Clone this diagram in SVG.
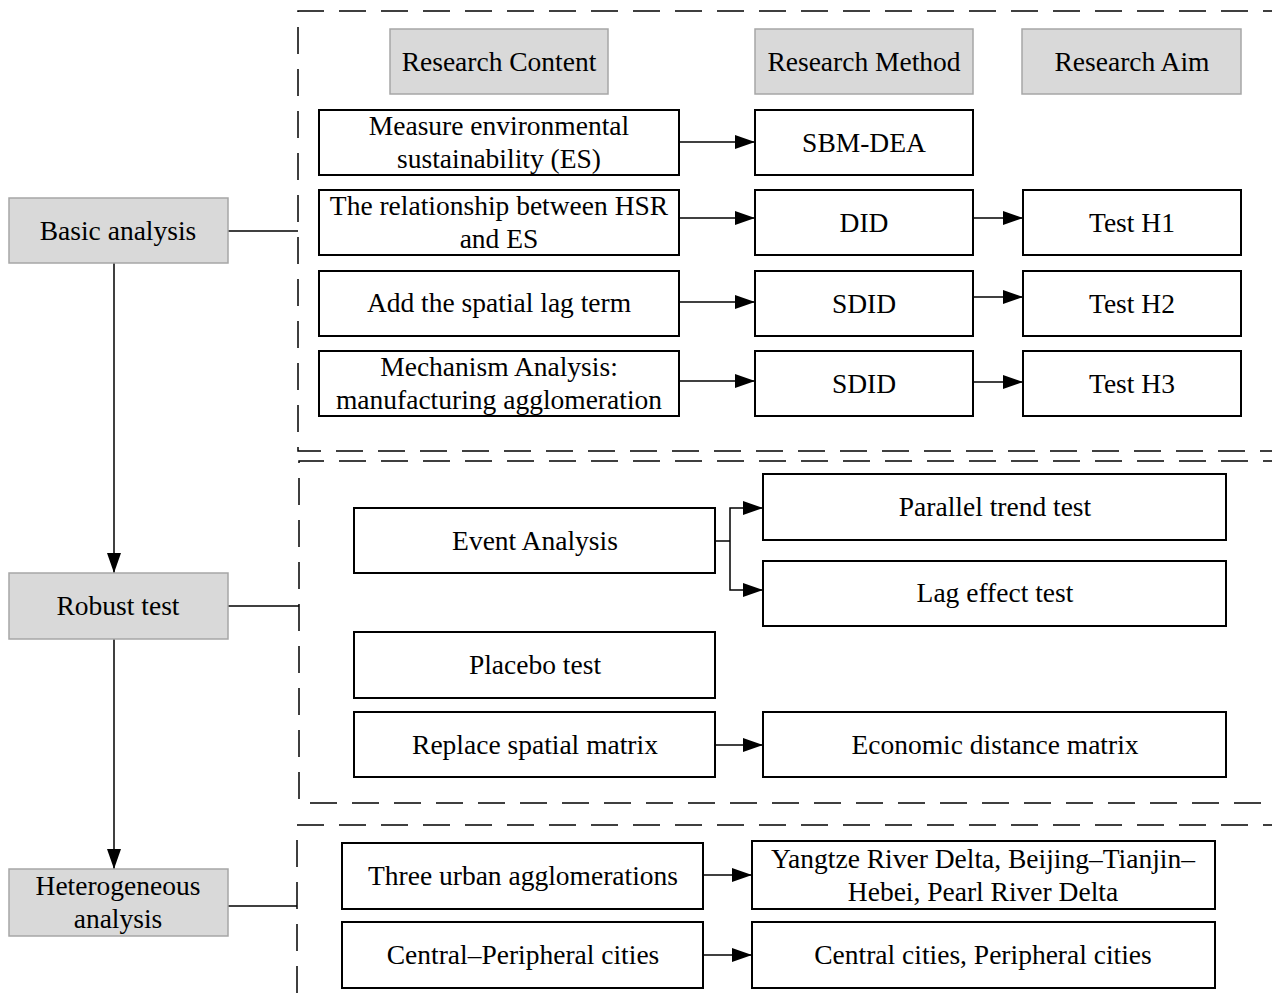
<svg xmlns="http://www.w3.org/2000/svg" width="1272" height="1000" viewBox="0 0 1272 1000">
<defs>
<marker id="arr" markerUnits="userSpaceOnUse" markerWidth="20" markerHeight="14" refX="20" refY="7" orient="auto">
<path d="M0,0 L20,7 L0,14 Z" fill="#000"/>
</marker>
<style>
.g{fill:#d9d9d9;stroke:#a6a6a6;stroke-width:1.5}
.w{fill:#fff;stroke:#000;stroke-width:2}
.t{font-family:"Liberation Serif","Times New Roman",serif;font-size:27.5px;fill:#000;text-anchor:middle}
.d{fill:none;stroke:#000;stroke-width:1.5;stroke-dasharray:27 15}
.c{fill:none;stroke:#000;stroke-width:1.5}
</style>
</defs>
<rect width="1272" height="1000" fill="#fff"/>
<g id="frames">
<path class="d" d="M1290,11 H298 V451 H1290"/>
<path class="d" d="M1290,461 H299 V803 H1290"/>
<path class="d" d="M1290,825 H297 V1010"/>
</g>
<g id="connectors">
<line class="c" x1="114" y1="263" x2="114" y2="573" marker-end="url(#arr)"/>
<line class="c" x1="114" y1="639" x2="114" y2="869" marker-end="url(#arr)"/>
<line class="c" x1="228" y1="231" x2="298" y2="231"/>
<line class="c" x1="228" y1="606" x2="299" y2="606"/>
<line class="c" x1="228" y1="906" x2="297" y2="906"/>
<line class="c" x1="679" y1="142" x2="755" y2="142" marker-end="url(#arr)"/>
<line class="c" x1="679" y1="218" x2="755" y2="218" marker-end="url(#arr)"/>
<line class="c" x1="679" y1="302" x2="755" y2="302" marker-end="url(#arr)"/>
<line class="c" x1="679" y1="381" x2="755" y2="381" marker-end="url(#arr)"/>
<line class="c" x1="973" y1="218" x2="1023" y2="218" marker-end="url(#arr)"/>
<line class="c" x1="973" y1="297" x2="1023" y2="297" marker-end="url(#arr)"/>
<line class="c" x1="973" y1="382" x2="1023" y2="382" marker-end="url(#arr)"/>
<line class="c" x1="715" y1="541" x2="730" y2="541"/>
<polyline class="c" points="730,541 730,508 763,508" marker-end="url(#arr)"/>
<polyline class="c" points="730,541 730,590 763,590" marker-end="url(#arr)"/>
<line class="c" x1="715" y1="745" x2="763" y2="745" marker-end="url(#arr)"/>
<line class="c" x1="703" y1="875" x2="752" y2="875" marker-end="url(#arr)"/>
<line class="c" x1="703" y1="955" x2="752" y2="955" marker-end="url(#arr)"/>
</g>
<g id="h-content"><rect class="g" x="390" y="29" width="218" height="65"/><text class="t" x="499" y="71">Research Content</text></g>
<g id="h-method"><rect class="g" x="755" y="29" width="218" height="65"/><text class="t" x="864" y="71">Research Method</text></g>
<g id="h-aim"><rect class="g" x="1022" y="29" width="219" height="65"/><text class="t" x="1132" y="71">Research Aim</text></g>
<g id="n-basic"><rect class="g" x="9" y="198" width="219" height="65"/><text class="t" x="118" y="240">Basic analysis</text></g>
<g id="n-robust"><rect class="g" x="9" y="573" width="219" height="66"/><text class="t" x="118" y="615">Robust test</text></g>
<g id="n-hetero"><rect class="g" x="9" y="869" width="219" height="67"/><text class="t" x="118" y="895">Heterogeneous</text><text class="t" x="118" y="928">analysis</text></g>
<g id="n-measure"><rect class="w" x="319" y="110" width="360" height="65"/><text class="t" x="499" y="135">Measure environmental</text><text class="t" x="499" y="168">sustainability (ES)</text></g>
<g id="n-relation"><rect class="w" x="319" y="190" width="360" height="65"/><text class="t" x="499" y="215">The relationship between HSR</text><text class="t" x="499" y="248">and ES</text></g>
<g id="n-spatial"><rect class="w" x="319" y="271" width="360" height="65"/><text class="t" x="499" y="312">Add the spatial lag term</text></g>
<g id="n-mech"><rect class="w" x="319" y="351" width="360" height="65"/><text class="t" x="499" y="376">Mechanism Analysis:</text><text class="t" x="499" y="409">manufacturing agglomeration</text></g>
<g id="n-sbm"><rect class="w" x="755" y="110" width="218" height="65"/><text class="t" x="864" y="152">SBM-DEA</text></g>
<g id="n-did"><rect class="w" x="755" y="190" width="218" height="65"/><text class="t" x="864" y="232">DID</text></g>
<g id="n-sdid1"><rect class="w" x="755" y="271" width="218" height="65"/><text class="t" x="864" y="313">SDID</text></g>
<g id="n-sdid2"><rect class="w" x="755" y="351" width="218" height="65"/><text class="t" x="864" y="393">SDID</text></g>
<g id="n-h1"><rect class="w" x="1023" y="190" width="218" height="65"/><text class="t" x="1132" y="232">Test H1</text></g>
<g id="n-h2"><rect class="w" x="1023" y="271" width="218" height="65"/><text class="t" x="1132" y="313">Test H2</text></g>
<g id="n-h3"><rect class="w" x="1023" y="351" width="218" height="65"/><text class="t" x="1132" y="393">Test H3</text></g>
<g id="n-event"><rect class="w" x="354" y="508" width="361" height="65"/><text class="t" x="535" y="550">Event Analysis</text></g>
<g id="n-parallel"><rect class="w" x="763" y="474" width="463" height="66"/><text class="t" x="995" y="516">Parallel trend test</text></g>
<g id="n-lag"><rect class="w" x="763" y="561" width="463" height="65"/><text class="t" x="995" y="602">Lag effect test</text></g>
<g id="n-placebo"><rect class="w" x="354" y="632" width="361" height="66"/><text class="t" x="535" y="674">Placebo test</text></g>
<g id="n-replace"><rect class="w" x="354" y="712" width="361" height="65"/><text class="t" x="535" y="754">Replace spatial matrix</text></g>
<g id="n-econ"><rect class="w" x="763" y="712" width="463" height="65"/><text class="t" x="995" y="754">Economic distance matrix</text></g>
<g id="n-three"><rect class="w" x="342" y="843" width="361" height="66"/><text class="t" x="523" y="885">Three urban agglomerations</text></g>
<g id="n-yrd"><rect class="w" x="752" y="841" width="463" height="68"/><text class="t" x="983" y="868">Yangtze River Delta, Beijing–Tianjin–</text><text class="t" x="983" y="901">Hebei, Pearl River Delta</text></g>
<g id="n-cp"><rect class="w" x="342" y="922" width="361" height="66"/><text class="t" x="523" y="964">Central–Peripheral cities</text></g>
<g id="n-cpc"><rect class="w" x="752" y="922" width="463" height="66"/><text class="t" x="983" y="964">Central cities, Peripheral cities</text></g>
</svg>
